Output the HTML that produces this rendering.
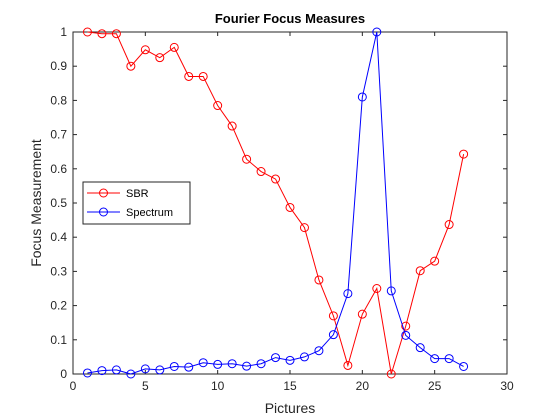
<!DOCTYPE html>
<html><head><meta charset="utf-8"><style>
body{margin:0;background:#fff;}
svg{display:block;font-family:"Liberation Sans",sans-serif;}
</style></head><body>
<svg id="chart" width="560" height="420" viewBox="0 0 560 420" xmlns="http://www.w3.org/2000/svg">
<rect width="560" height="420" fill="#fff"/>
</svg>
<script>
const categories=[1,2,3,4,5,6,7,8,9,10,11,12,13,14,15,16,17,18,19,20,21,22,23,24,25,26,27];
const sbrValues=[1.0,0.995,0.995,0.9,0.948,0.925,0.955,0.87,0.87,0.785,0.725,0.628,0.592,0.57,0.487,0.428,0.275,0.17,0.025,0.175,0.25,0.0,0.14,0.302,0.33,0.437,0.643];
const spectrumValues=[0.003,0.01,0.012,0.0,0.015,0.012,0.022,0.02,0.033,0.028,0.03,0.023,0.03,0.048,0.04,0.05,0.068,0.115,0.235,0.81,1.0,0.243,0.113,0.077,0.045,0.045,0.022];
const xTicks=[0,5,10,15,20,25,30];
const yTicks=[0,0.1,0.2,0.3,0.4,0.5,0.6,0.7,0.8,0.9,1];
const yTickLabels=["0","0.1","0.2","0.3","0.4","0.5","0.6","0.7","0.8","0.9","1"];

const NS="http://www.w3.org/2000/svg";
const svg=document.getElementById('chart');
const L=73,R=507,T=32,B=374;
const xs=v=>L+(v-0)/(30-0)*(R-L);
const ys=v=>B-(v-0)/(1-0)*(B-T);
function mk(tag,attrs,parent){const e=document.createElementNS(NS,tag);for(const k in attrs)e.setAttribute(k,attrs[k]);(parent||svg).appendChild(e);return e;}

const box=mk('rect',{x:L,y:T,width:R-L,height:B-T,fill:'#fff',stroke:'#262626','stroke-width':1});



xTicks.forEach(t=>{
  const x=xs(t);
  mk('line',{x1:x,y1:B,x2:x,y2:B-4,stroke:'#262626'});
  mk('line',{x1:x,y1:T,x2:x,y2:T+4,stroke:'#262626'});
  const tx=mk('text',{x:x,y:B+16,'text-anchor':'middle','font-size':12,fill:'#262626'});
  tx.textContent=t;
  
  
});
yTicks.forEach((t,i)=>{
  const y=ys(t);
  mk('line',{x1:L,y1:y,x2:L+4,y2:y,stroke:'#262626'});
  mk('line',{x1:R,y1:y,x2:R-4,y2:y,stroke:'#262626'});
  const tx=mk('text',{x:L-6,y:y+4,'text-anchor':'end','font-size':12,fill:'#262626'});
  tx.textContent=yTickLabels[i];
  
  
});

function series(vals,color,name){
  const g=mk('g',{});
  
  
  const pts=vals.map((v,i)=>xs(categories[i])+','+ys(v)).join(' ');
  mk('polyline',{points:pts,fill:'none',stroke:color,'stroke-width':1},g);
  vals.forEach((v,i)=>{
    const c=mk('circle',{cx:xs(categories[i]),cy:ys(v),r:4,fill:'none',stroke:color,'stroke-width':1},g);
    
    
  });
}
series(sbrValues,'#ff0000','sbr-series');
series(spectrumValues,'#0000ff','spectrum-series');

const title=mk('text',{x:(L+R)/2,y:23,'text-anchor':'middle','font-size':13,'font-weight':'bold',fill:'#000'});
title.textContent='Fourier Focus Measures';


const xt=mk('text',{x:(L+R)/2,y:413,'text-anchor':'middle','font-size':14,fill:'#262626'});
xt.textContent='Pictures';


const yt=mk('text',{x:0,y:0,'text-anchor':'middle','font-size':14,fill:'#262626',transform:'translate(41,'+((T+B)/2)+') rotate(-90)'});
yt.textContent='Focus Measurement';



const lg=mk('g',{});


mk('rect',{x:83,y:182,width:107,height:42,fill:'#fff',stroke:'#262626','stroke-width':1},lg);
[['SBR','#ff0000',193],['Spectrum','#0000ff',212]].forEach(([n,c,y])=>{
  const e=mk('g',{},lg);
  
  
  mk('line',{x1:87,y1:y,x2:120,y2:y,stroke:c},e);
  mk('circle',{cx:103.5,cy:y,r:4,fill:'none',stroke:c},e);
  const t=mk('text',{x:126,y:y+4,'font-size':11,fill:'#000'},e);
  t.textContent=n;
});
</script>
</body></html>
